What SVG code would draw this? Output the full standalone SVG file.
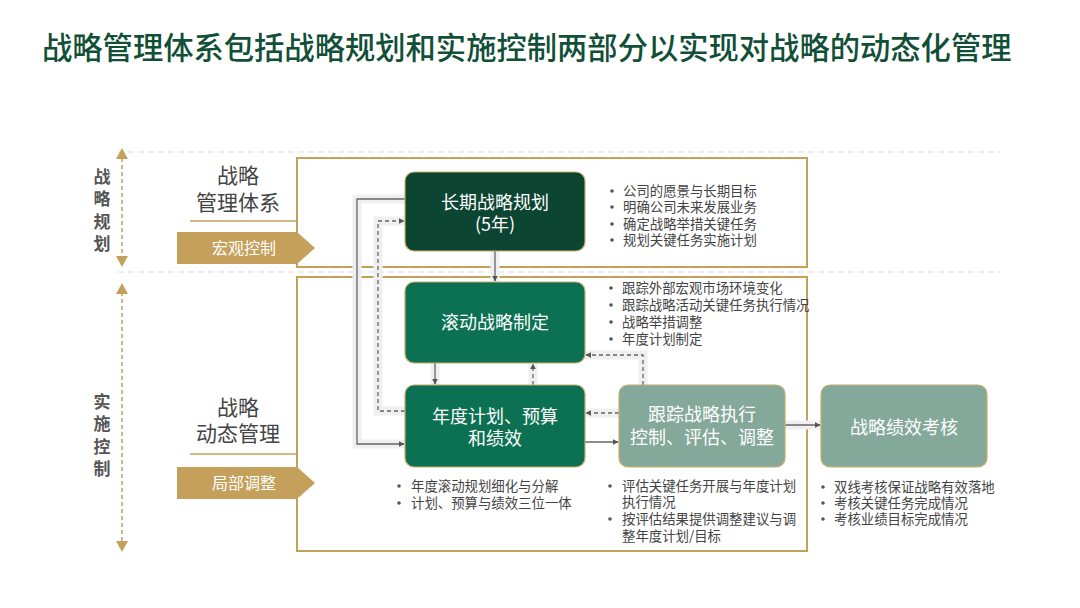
<svg xmlns="http://www.w3.org/2000/svg" width="1080" height="608" viewBox="0 0 1080 608">
<defs>
<style>
text{font-family:"Noto Sans CJK SC","Noto Sans",sans-serif;}
.title{font-size:30.3px;fill:#124f37;font-weight:500;}
.side{font-size:17px;fill:#555;font-weight:bold;text-anchor:middle;}
.lbl{font-size:21px;fill:#444;text-anchor:middle;}
.badge{fill:#c4a05a;}
.bt{font-size:16px;fill:#fff;text-anchor:middle;}
.node{stroke:#c9ad6a;stroke-width:1.2;}
.nt{font-size:18px;fill:#fff;text-anchor:middle;}
.bl{font-size:13.4px;fill:#444;}
.dot{fill:#555;}
.frame{fill:none;stroke:#c4a05a;stroke-width:2;}
.sep{stroke:#dcdcdc;stroke-width:1.2;stroke-dasharray:6 4;fill:none;}
.gold{stroke:#c4a05a;stroke-width:1.5;stroke-dasharray:4 3;fill:none;}
.halo{stroke:#efefef;stroke-width:9;fill:none;}
.c{stroke:#666;stroke-width:1.3;fill:none;marker-end:url(#ah);}
.cd{stroke:#666;stroke-width:1.3;fill:none;stroke-dasharray:4 3;marker-end:url(#ah);}
</style>
<marker id="ah" viewBox="0 0 10 10" refX="9" refY="5" markerWidth="6" markerHeight="6" orient="auto-start-reverse" markerUnits="userSpaceOnUse">
<path d="M0,0 L10,5 L0,10 z" fill="#555"/>
</marker>
</defs>
<rect width="1080" height="608" fill="#fff"/>
<text class="title" x="42" y="59">战略管理体系包括战略规划和实施控制两部分以实现对战略的动态化管理</text>

<g id="separators">
<line class="sep" x1="118" y1="152" x2="1000" y2="152"/>
<line class="sep" x1="118" y1="272" x2="1000" y2="272"/>
</g>

<g id="side-planning">
<line class="gold" x1="122" y1="158" x2="122" y2="258"/>
<path d="M122,148 L128,159 L116,159 z" fill="#c4a05a"/>
<path d="M122,267 L128,256 L116,256 z" fill="#c4a05a"/>
<text class="side"><tspan x="102" y="183">战</tspan><tspan x="102" y="205">略</tspan><tspan x="102" y="228">规</tspan><tspan x="102" y="250">划</tspan></text>
</g>
<g id="side-control">
<line class="gold" x1="122" y1="292" x2="122" y2="544"/>
<path d="M122,283 L128,294 L116,294 z" fill="#c4a05a"/>
<path d="M122,552 L128,541 L116,541 z" fill="#c4a05a"/>
<text class="side"><tspan x="102" y="408">实</tspan><tspan x="102" y="430">施</tspan><tspan x="102" y="453">控</tspan><tspan x="102" y="475">制</tspan></text>
</g>

<g id="frames">
<rect class="frame" x="297" y="158" width="510" height="109"/>
<rect class="frame" x="297" y="277" width="510" height="274"/>
</g>

<g id="label-macro">
<text class="lbl"><tspan x="238" y="183">战略</tspan><tspan x="238" y="210">管理体系</tspan></text>
<line x1="190" y1="221" x2="297" y2="221" stroke="#c4a05a" stroke-width="1.5"/>
<path class="badge" d="M177,232 H297 L315,248 L297,264 H177 z"/>
<text class="bt" x="244" y="254">宏观控制</text>
</g>
<g id="label-local">
<text class="lbl"><tspan x="238" y="415">战略</tspan><tspan x="238" y="441">动态管理</tspan></text>
<line x1="190" y1="454" x2="297" y2="454" stroke="#c4a05a" stroke-width="1.5"/>
<path class="badge" d="M177,467 H297 L315,483 L297,499 H177 z"/>
<text class="bt" x="244" y="489">局部调整</text>
</g>

<g id="connectors">
<path class="halo" d="M405,199 H357 V444 H405"/>
<path class="halo" d="M405,411 H378 V221 H405"/>
<path class="c" d="M405,199 H357 V444 H404"/>
<path class="cd" d="M405,411 H378 V221 H404"/>
<path class="halo" d="M495,251 V282" stroke-width="5"/>
<path class="c" d="M495,251 V281"/>
<path class="halo" d="M435,363 V385" stroke-width="7"/>
<path class="c" d="M435,363 V384"/>
<path class="halo" d="M533,385 V363" stroke-width="7"/>
<path class="cd" d="M533,385 V364"/>
<path class="halo" d="M643,385 V355 H585"/>
<path class="cd" d="M643,385 V355 H586"/>
<path class="halo" d="M619,413 H585" stroke-width="6"/>
<path class="cd" d="M619,413 H586"/>
<path class="c" d="M585,442 H618"/>
<path class="halo" d="M785,425 H821" stroke-width="5"/>
<path class="c" d="M785,425 H820"/>
</g>

<g id="node-longterm">
<rect class="node" x="405" y="172" width="180" height="79" rx="9" fill="#0c4532"/>
<text class="nt"><tspan x="495" y="209">长期战略规划</tspan><tspan x="495" y="231">(5年)</tspan></text>
</g>
<g id="node-rolling">
<rect class="node" x="405" y="282" width="180" height="81" rx="9" fill="#0b7152"/>
<text class="nt" x="495" y="329">滚动战略制定</text>
</g>
<g id="node-annual">
<rect class="node" x="405" y="385" width="180" height="82" rx="9" fill="#0b7152"/>
<text class="nt"><tspan x="495" y="423">年度计划、预算</tspan><tspan x="495" y="445">和绩效</tspan></text>
</g>
<g id="node-track">
<rect class="node" x="619" y="385" width="166" height="82" rx="9" fill="#84a89a"/>
<text class="nt"><tspan x="702" y="421">跟踪战略执行</tspan><tspan x="702" y="444">控制、评估、调整</tspan></text>
</g>
<g id="node-eval">
<rect class="node" x="821" y="385" width="166" height="82" rx="9" fill="#84a89a"/>
<text class="nt" x="904" y="434">战略绩效考核</text>
</g>

<g id="bullets-longterm">
<circle class="dot" cx="612" cy="191" r="1.8"/><circle class="dot" cx="612" cy="207" r="1.8"/><circle class="dot" cx="612" cy="224" r="1.8"/><circle class="dot" cx="612" cy="240" r="1.8"/>
<text class="bl"><tspan x="623" y="196">公司的愿景与长期目标</tspan><tspan x="623" y="212">明确公司未来发展业务</tspan><tspan x="623" y="229">确定战略举措关键任务</tspan><tspan x="623" y="245">规划关键任务实施计划</tspan></text>
</g>
<g id="bullets-rolling">
<circle class="dot" cx="611" cy="288" r="1.8"/><circle class="dot" cx="611" cy="305" r="1.8"/><circle class="dot" cx="611" cy="322" r="1.8"/><circle class="dot" cx="611" cy="339" r="1.8"/>
<text class="bl"><tspan x="622" y="293">跟踪外部宏观市场环境变化</tspan><tspan x="622" y="310">跟踪战略活动关键任务执行情况</tspan><tspan x="622" y="327">战略举措调整</tspan><tspan x="622" y="344">年度计划制定</tspan></text>
</g>
<g id="bullets-annual">
<circle class="dot" cx="399" cy="486" r="1.8"/><circle class="dot" cx="399" cy="503" r="1.8"/>
<text class="bl"><tspan x="411" y="491">年度滚动规划细化与分解</tspan><tspan x="411" y="508">计划、预算与绩效三位一体</tspan></text>
</g>
<g id="bullets-track">
<circle class="dot" cx="610" cy="486" r="1.8"/><circle class="dot" cx="610" cy="519" r="1.8"/>
<text class="bl"><tspan x="622" y="491">评估关键任务开展与年度计划</tspan><tspan x="622" y="507">执行情况</tspan><tspan x="622" y="524">按评估结果提供调整建议与调</tspan><tspan x="622" y="541">整年度计划/目标</tspan></text>
</g>
<g id="bullets-eval">
<circle class="dot" cx="823" cy="487" r="1.8"/><circle class="dot" cx="823" cy="503" r="1.8"/><circle class="dot" cx="823" cy="519" r="1.8"/>
<text class="bl"><tspan x="834" y="492">双线考核保证战略有效落地</tspan><tspan x="834" y="508">考核关键任务完成情况</tspan><tspan x="834" y="524">考核业绩目标完成情况</tspan></text>
</g>
</svg>
